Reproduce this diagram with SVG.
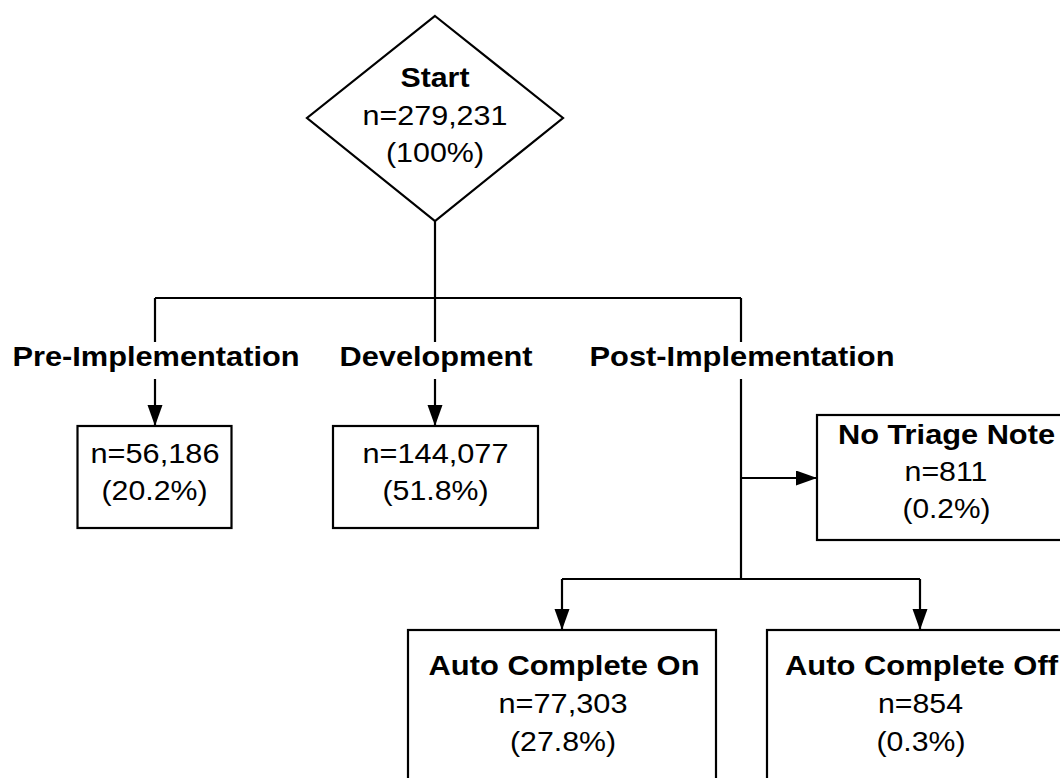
<svg xmlns="http://www.w3.org/2000/svg" width="1060" height="778" viewBox="0 0 1060 778">
<style>
.shape{fill:#fff;stroke:#000;stroke-width:2.2}
.line{fill:none;stroke:#000;stroke-width:2.2}
text{font-family:"Liberation Sans",Arial,sans-serif;font-size:28.5px;fill:#000;text-anchor:middle}
.b{font-weight:bold}
</style>
<defs>
<marker id="arrow" markerUnits="userSpaceOnUse" markerWidth="22" markerHeight="16" refX="21" refY="7.5" orient="auto">
<path d="M0,0 L21,7.5 L0,15 Z" fill="#000"/>
</marker>
</defs>
<rect width="1060" height="778" fill="#fff"/>
<g id="connectors">
<path class="line" d="M435,221 V298"/>
<path class="line" d="M155,298 H741"/>
<path class="line" d="M155,298 V342"/>
<path class="line" d="M435,298 V342"/>
<path class="line" d="M741,298 V342"/>
<path class="line" d="M155,379 V426" marker-end="url(#arrow)"/>
<path class="line" d="M435,379 V426" marker-end="url(#arrow)"/>
<path class="line" d="M741,379 V579"/>
<path class="line" d="M741,478 H817" marker-end="url(#arrow)"/>
<path class="line" d="M562,579 H920"/>
<path class="line" d="M562,579 V630" marker-end="url(#arrow)"/>
<path class="line" d="M920,579 V630" marker-end="url(#arrow)"/>
</g>
<g id="start">
<polygon class="shape" points="435,16 563,118 435,221 307,118"/>
<text class="b" x="435" y="86.5" textLength="69" lengthAdjust="spacingAndGlyphs">Start</text>
<text x="435" y="124.5" textLength="145" lengthAdjust="spacingAndGlyphs">n=279,231</text>
<text x="435" y="162" textLength="98" lengthAdjust="spacingAndGlyphs">(100%)</text>
</g>
<g id="label-pre">
<text class="b" x="156" y="366" textLength="287" lengthAdjust="spacingAndGlyphs">Pre-Implementation</text>
</g>
<g id="label-dev">
<text class="b" x="436" y="366" textLength="193" lengthAdjust="spacingAndGlyphs">Development</text>
</g>
<g id="label-post">
<text class="b" x="742" y="366" textLength="305" lengthAdjust="spacingAndGlyphs">Post-Implementation</text>
</g>
<g id="pre">
<rect class="shape" x="77.5" y="426" width="154" height="102"/>
<text x="155" y="463" textLength="129" lengthAdjust="spacingAndGlyphs">n=56,186</text>
<text x="154.5" y="500" textLength="106" lengthAdjust="spacingAndGlyphs">(20.2%)</text>
</g>
<g id="dev">
<rect class="shape" x="333" y="426" width="205" height="102"/>
<text x="435.5" y="463" textLength="146" lengthAdjust="spacingAndGlyphs">n=144,077</text>
<text x="435.5" y="500" textLength="106" lengthAdjust="spacingAndGlyphs">(51.8%)</text>
</g>
<g id="no-triage">
<rect class="shape" x="817" y="415" width="260" height="125"/>
<text class="b" x="946.5" y="444" textLength="217" lengthAdjust="spacingAndGlyphs">No Triage Note</text>
<text x="946" y="481" textLength="83" lengthAdjust="spacingAndGlyphs">n=811</text>
<text x="946.5" y="518" textLength="88" lengthAdjust="spacingAndGlyphs">(0.2%)</text>
</g>
<g id="auto-on">
<rect class="shape" x="408" y="630" width="308" height="160"/>
<text class="b" x="564" y="675" textLength="271" lengthAdjust="spacingAndGlyphs">Auto Complete On</text>
<text x="563" y="713" textLength="129" lengthAdjust="spacingAndGlyphs">n=77,303</text>
<text x="563" y="751" textLength="106" lengthAdjust="spacingAndGlyphs">(27.8%)</text>
</g>
<g id="auto-off">
<rect class="shape" x="767" y="630" width="310" height="160"/>
<text class="b" x="921.5" y="675" textLength="273" lengthAdjust="spacingAndGlyphs">Auto Complete Off</text>
<text x="920.5" y="713" textLength="85" lengthAdjust="spacingAndGlyphs">n=854</text>
<text x="921" y="751" textLength="89" lengthAdjust="spacingAndGlyphs">(0.3%)</text>
</g>
</svg>
